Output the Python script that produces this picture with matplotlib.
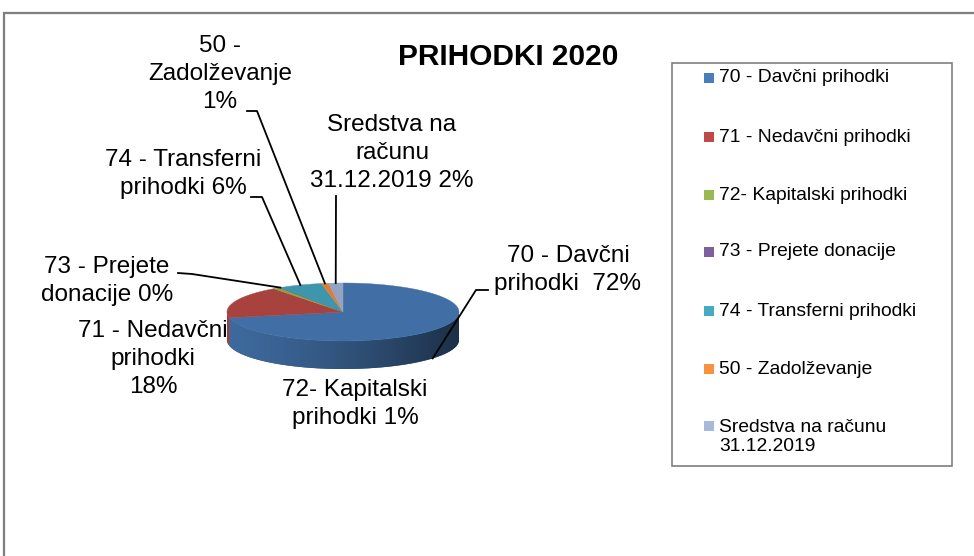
import numpy as np
import matplotlib
matplotlib.use("Agg")
import matplotlib.pyplot as plt
from matplotlib.patches import Polygon, Rectangle
from matplotlib.colors import to_rgb

plt.rcParams['font.family'] = ['Liberation Sans', 'DejaVu Sans']

# ---- data ----
title = "PRIHODKI 2020"
categories = ["70 - Davčni prihodki", "71 - Nedavčni prihodki", "72- Kapitalski prihodki",
              "73 - Prejete donacije", "74 - Transferni prihodki", "50 - Zadolževanje",
              "Sredstva na računu\n31.12.2019"]
values = [72, 18, 1, 0.2, 6, 1, 2]
label_prefix = ["70 - Davčni\nprihodki  ", "71 - Nedavčni\nprihodki\n", "72- Kapitalski\nprihodki ",
                "73 - Prejete\ndonacije ", "74 - Transferni\nprihodki ", "50 -\nZadolževanje\n",
                "Sredstva na\nračunu\n31.12.2019 "]
colors = ['#4A7EBB', '#BE4B48', '#98B954', '#7D60A0', '#46AAC5', '#F69240', '#A7B9DB']

# ---- layout (pixel space) ----
W, H = 974, 556
cx, cy, rx, ry, depth = 343, 312, 116, 29, 28
top_dark = 0.88

fig = plt.figure(figsize=(W / 100, H / 100), dpi=100)
ax = fig.add_axes([0, 0, 1, 1])
ax.axis('off')

# chart border
ax.plot([4, 4, W + 5], [H + 5, 13, 13], color='#7f7f7f', lw=1.6, solid_joinstyle='miter')

vals = np.array(values, dtype=float)
frac = vals / vals.sum()
cum = np.concatenate([[0], np.cumsum(frac)])
a_start = 90 - 360 * cum[:-1]
a_end = 90 - 360 * cum[1:]


def pt(theta_deg):
    t = np.radians(theta_deg)
    return cx + rx * np.cos(t), cy - ry * np.sin(t)


def shade(x):
    t = (x - (cx - rx)) / (2 * rx)
    return 0.95 - 0.52 * np.clip(t, 0, 1) ** 1.4


# side faces with horizontal gradient
for i in range(len(vals)):
    n = max(int(abs(a_start[i] - a_end[i]) / 0.25) + 2, 2)
    th = np.linspace(a_end[i], a_start[i], n)
    front = np.sin(np.radians(th)) < 0
    runs, cur = [], []
    for t, f in zip(th, front):
        if f:
            cur.append(t)
        elif cur:
            runs.append(cur); cur = []
    if cur:
        runs.append(cur)
    base = np.array(to_rgb(colors[i])) * top_dark
    for run in runs:
        if len(run) < 2:
            continue
        run = np.array(run)
        xs, ys = pt(run)
        verts = list(zip(xs, ys)) + list(zip(xs[::-1], ys[::-1] + depth))
        x0, x1 = xs.min(), xs.max()
        midc = np.clip(base * shade((x0 + x1) / 2), 0, 1)
        poly = Polygon(verts, closed=True, facecolor=midc, edgecolor='none')
        ax.add_patch(poly)
        gx = np.linspace(x0, x1, 200)
        img = np.clip(base[None, :] * shade(gx)[:, None], 0, 1)[None, :, :]
        im = ax.imshow(img, extent=(x0, x1, cy + ry + depth + 2, cy - 2), aspect='auto',
                       interpolation='bilinear', zorder=1.5)
        im.set_clip_path(poly)

# top faces
for i in range(len(vals)):
    n = max(int(abs(a_start[i] - a_end[i]) / 0.5) + 2, 2)
    th = np.linspace(a_start[i], a_end[i], n)
    xs, ys = pt(th)
    verts = [(cx, cy)] + list(zip(xs, ys))
    c = np.clip(np.array(to_rgb(colors[i])) * top_dark, 0, 1)
    ax.add_patch(Polygon(verts, closed=True, facecolor=c, edgecolor=c, lw=0.3, zorder=2))

# data labels
fs = 17.5
pct = [f"{round(f * 100)}%" for f in frac]
label_pos = [(568, 270), (153, 359), (355, 404), (107, 281), (183, 174), (220, 74), (392, 153)]
for i, (x, y) in enumerate(label_pos):
    ax.text(x, y, label_prefix[i] + pct[i], ha='center', va='center', fontsize=fs,
            linespacing=1.33, color='black', zorder=4)

# leader lines (anchor on slice mid-angle)
mid = (a_start + a_end) / 2
leaders = {
    0: ([(488, 290), (476, 290)], True),
    3: ([(178, 273), (192, 274)], False),
    4: ([(251, 197), (262, 197)], False),
    5: ([(247, 111), (257, 111)], False),
    6: ([(336, 196)], False),
}
for i, (pts, bottom) in leaders.items():
    ax_, ay_ = pt(mid[i])
    if bottom:
        ay_ += depth
    xs = [p[0] for p in pts] + [ax_]
    ys = [p[1] for p in pts] + [ay_]
    ax.plot(xs, ys, color='black', lw=1.3, zorder=3)

# title
ax.text(508, 57, title, ha='center', va='center', fontsize=21.5, fontweight='bold')

# legend (manual)
ax.add_patch(Rectangle((672, 63), 280, 403, facecolor='white', edgecolor='#7f7f7f', lw=1.2))
leg_y = [78, 137, 195, 252, 311, 369, 426]
for i, cat in enumerate(categories):
    y = leg_y[i]
    ax.add_patch(Rectangle((704, y - 5), 10, 10, facecolor=colors[i], edgecolor='none'))
    ty = y if '\n' not in cat else y + 11
    ax.text(719, ty, cat, ha='left', va='center', fontsize=13.9, linespacing=1.2)

ax.set_xlim(0, W)
ax.set_ylim(H, 0)
fig.savefig("out.png", dpi=100)
